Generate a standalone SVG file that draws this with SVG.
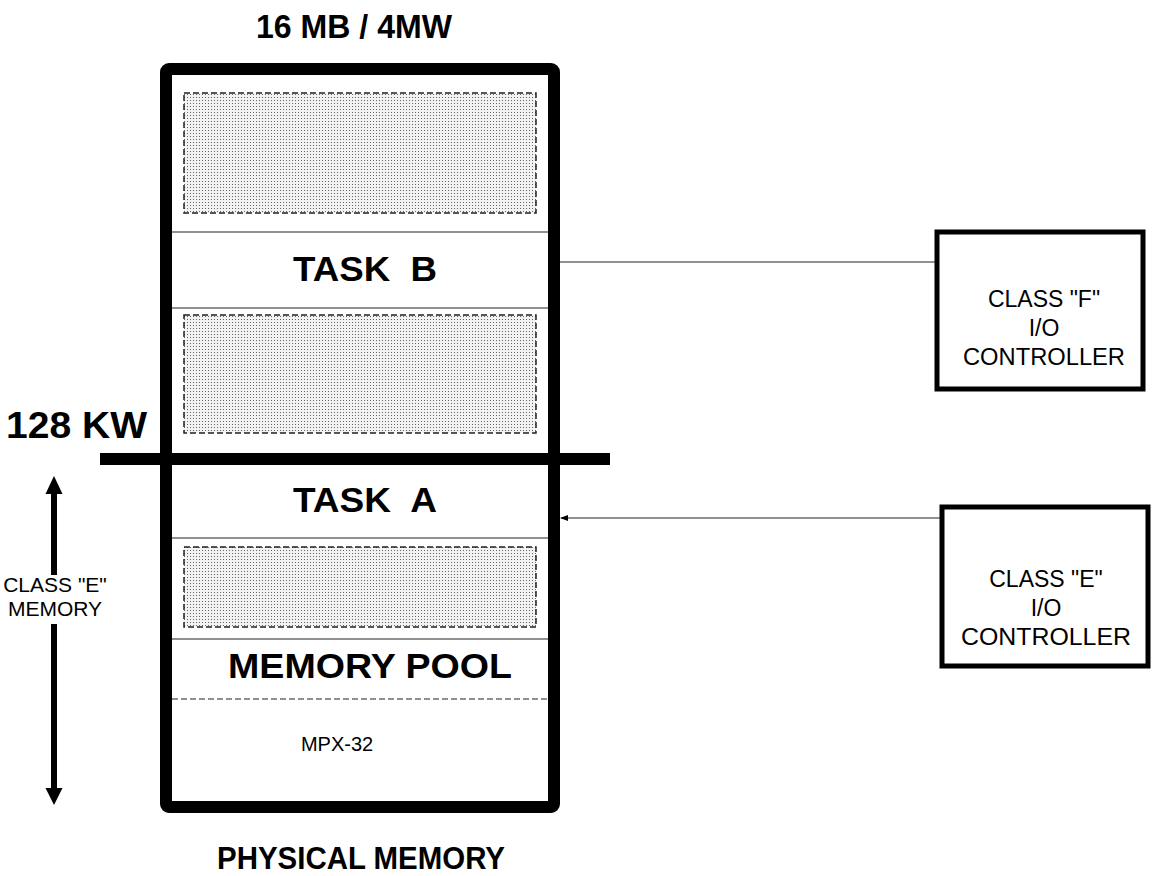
<svg xmlns="http://www.w3.org/2000/svg" width="1155" height="876" viewBox="0 0 1155 876">
<defs>
<pattern id="dots" width="3" height="3" patternUnits="userSpaceOnUse">
<rect width="3" height="3" fill="#f2f2f2"/>
<rect x="1" y="1" width="1" height="1" fill="#666"/>
</pattern>
<marker id="arrSmall" markerWidth="8" markerHeight="6" refX="7" refY="3" orient="auto" markerUnits="userSpaceOnUse">
<path d="M0,0 L8,3 L0,6 Z" fill="#000"/>
</marker>
</defs>
<style>
.bold{font-family:"Liberation Sans",Arial,sans-serif;font-weight:bold;fill:#000}
.reg{font-family:"Liberation Sans",Arial,sans-serif;fill:#000}
.shade{fill:url(#dots);stroke:#222;stroke-width:1.5;stroke-dasharray:6,3}
.thin{stroke:#222;stroke-width:1.2;fill:none}
.ctrl{fill:#fff;stroke:#000;stroke-width:5}
</style>
<rect width="1155" height="876" fill="#fff"/>

<g id="memory">
<rect x="166" y="69" width="388" height="738" fill="#fff" stroke="#000" stroke-width="12" rx="3"/>
<rect class="shade" x="184" y="93" width="352" height="120"/>
<line class="thin" x1="172" y1="232" x2="548" y2="232"/>
<line class="thin" x1="172" y1="308" x2="548" y2="308"/>
<rect class="shade" x="184" y="315" width="352" height="118"/>
<line class="thin" x1="172" y1="538" x2="548" y2="538"/>
<rect class="shade" x="184" y="547" width="352" height="80"/>
<line class="thin" x1="172" y1="639" x2="548" y2="639"/>
<line x1="172" y1="699" x2="548" y2="699" stroke="#222" stroke-width="1.2" stroke-dasharray="6,3"/>
<line x1="100" y1="459" x2="610" y2="459" stroke="#000" stroke-width="12"/>
</g>

<g id="labels">
<text class="bold" x="354" y="38" font-size="33" text-anchor="middle" textLength="196" lengthAdjust="spacingAndGlyphs">16 MB / 4MW</text>
<text class="bold" x="365" y="281" font-size="35" text-anchor="middle" xml:space="preserve" textLength="144" lengthAdjust="spacingAndGlyphs">TASK  B</text>
<text class="bold" x="365" y="512" font-size="35" text-anchor="middle" xml:space="preserve" textLength="144" lengthAdjust="spacingAndGlyphs">TASK  A</text>
<text class="bold" x="370" y="678" font-size="35" text-anchor="middle" textLength="284" lengthAdjust="spacingAndGlyphs">MEMORY POOL</text>
<text class="reg" x="337" y="751" font-size="20" text-anchor="middle">MPX-32</text>
<text class="bold" x="6" y="438" font-size="36" textLength="141" lengthAdjust="spacingAndGlyphs">128 KW</text>
<text class="bold" x="361" y="869" font-size="32" text-anchor="middle" textLength="288" lengthAdjust="spacingAndGlyphs">PHYSICAL MEMORY</text>
<text class="reg" x="55" y="592" font-size="21" text-anchor="middle">CLASS "E"</text>
<text class="reg" x="55" y="616" font-size="21" text-anchor="middle">MEMORY</text>
</g>

<g id="range-arrows">
<line x1="54" y1="492" x2="54" y2="575" stroke="#000" stroke-width="6"/>
<path d="M45.5,494 L54,476 L62.5,494 Z" fill="#000"/>
<line x1="54" y1="624" x2="54" y2="790" stroke="#000" stroke-width="6"/>
<path d="M45.5,788 L54,805 L62.5,788 Z" fill="#000"/>
</g>

<g id="ctrlF">
<rect class="ctrl" x="937" y="232" width="206" height="157"/>
<text class="reg" x="1044" y="307" font-size="23" text-anchor="middle">CLASS "F"</text>
<text class="reg" x="1044" y="336" font-size="23" text-anchor="middle">I/O</text>
<text class="reg" x="1044" y="365" font-size="23" text-anchor="middle" textLength="162" lengthAdjust="spacingAndGlyphs">CONTROLLER</text>
</g>

<g id="ctrlE">
<rect class="ctrl" x="942" y="507" width="206" height="159"/>
<text class="reg" x="1046" y="587" font-size="23" text-anchor="middle">CLASS "E"</text>
<text class="reg" x="1046" y="616" font-size="23" text-anchor="middle">I/O</text>
<text class="reg" x="1046" y="645" font-size="23" text-anchor="middle" textLength="170" lengthAdjust="spacingAndGlyphs">CONTROLLER</text>
</g>

<g id="connectors">
<line class="thin" x1="560" y1="262" x2="935" y2="262"/>
<line class="thin" x1="940" y1="518" x2="561" y2="518" marker-end="url(#arrSmall)"/>
</g>
</svg>
